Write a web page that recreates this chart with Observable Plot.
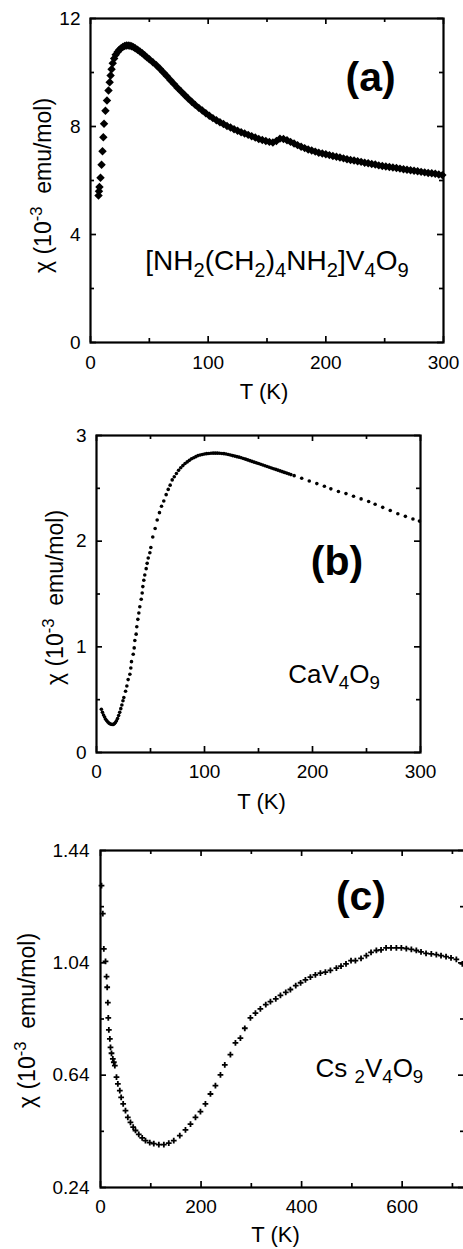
<!DOCTYPE html>
<html><head><meta charset="utf-8">
<script src="https://cdn.jsdelivr.net/npm/d3@7"></script>
<script src="https://cdn.jsdelivr.net/npm/@observablehq/plot@0.6"></script>
<style>
html,body{margin:0;padding:0;background:#fff;overflow:hidden;}
#wrap{position:relative;width:463px;height:1249px;overflow:hidden;background:#fff;}
#wrap svg{position:absolute;left:0;}
</style></head><body><div id="wrap"></div>
<script>
// ---------- Panel (a): [NH2(CH2)4NH2]V4O9 ----------
const aT = [6.8,7.2,7.6,8.5,9.4,10.2,10.9,11.5,12.7,14.0,15.3,16.3,17.1,17.9,18.9,20.1,21.4,23,24.5,26,27.5,29,30.5,32,33.5,35,36.5,38,40,42,44,46,48,50,53,56,59,62,65,68,71,74,77,80,83,86,89,92,95,98,101,104,107,110,113,116,119,122,125,128,131,134,137,140,143,146,149,152,155,158,161,164,167,170,173,176,179,182,185,188,191,194,197,200,203,206,209,212,215,218,221,224,227,230,233,236,239,242,245,248,251,254,257,260,263,266,269,272,275,278,281,284,287,290,293,296,299];
const aChi = [5.44,5.60,5.76,6.10,6.58,7.08,7.60,8.10,8.58,8.96,9.33,9.64,9.89,10.12,10.34,10.52,10.66,10.76,10.84,10.90,10.95,10.98,11.00,11.00,10.99,10.97,10.94,10.90,10.84,10.78,10.71,10.64,10.56,10.49,10.38,10.27,10.14,10.00,9.86,9.71,9.57,9.43,9.30,9.17,9.04,8.92,8.80,8.69,8.59,8.49,8.40,8.31,8.23,8.16,8.09,8.02,7.96,7.90,7.84,7.79,7.74,7.69,7.64,7.59,7.54,7.50,7.46,7.43,7.41,7.46,7.55,7.54,7.49,7.43,7.37,7.31,7.25,7.20,7.15,7.11,7.07,7.03,7.00,6.97,6.94,6.91,6.88,6.85,6.82,6.79,6.76,6.74,6.71,6.69,6.66,6.64,6.61,6.59,6.56,6.54,6.52,6.50,6.48,6.46,6.44,6.42,6.40,6.38,6.36,6.34,6.32,6.30,6.28,6.27,6.25,6.22,6.20];
const aXTicks = [0,100,200,300], aXMinor = [50,150,250];
const aYTicks = [0,4,8,12], aYMinor = [2,6,10];

// ---------- Panel (b): CaV4O9 ----------
const bT = [4.5,5.5,6.5,7.5,8.5,9.5,10.5,11.5,12.5,13.5,14.5,15.5,16.5,17.5,18.5,19.5,20.5,21.5,22.5,23.5,24.5,
  25.3,26.9,28.1,29.3,30.9,31.8,32.4,34,34.9,35.5,36.7,37.3,38.3,39.2,40.1,41.4,42.3,42.9,43.8,44.7,46,46.9,47.9,49.4,50.3,52.1,54.3,56.2,58.3,60.2,62.3,64.5,66.4,68.2,70.1,
  72,74,76,78,80,82,84,86,88,90,92,94,96,98,100,102,104,106,108,110,112,114,116,118,120,122,124,126,128,130,132,134,136,138,140,142,144,146,148,150,152,154,156,158,160,162,164,166,168,170,172,174,176,178,180,
  183,190,197,204,211,217,224,231,238,245,252,258,265,272,279,286,293,299];
const bChi = [0.41,0.38,0.355,0.335,0.315,0.30,0.288,0.278,0.272,0.267,0.265,0.266,0.272,0.283,0.30,0.322,0.35,0.38,0.415,0.45,0.49,
  0.52,0.58,0.63,0.69,0.74,0.80,0.86,0.93,0.99,1.06,1.12,1.19,1.26,1.32,1.38,1.45,1.51,1.57,1.63,1.68,1.74,1.79,1.84,1.89,1.94,2.04,2.12,2.20,2.27,2.33,2.38,2.44,2.49,2.53,2.58,
  2.61,2.64,2.67,2.695,2.715,2.735,2.75,2.765,2.78,2.79,2.80,2.81,2.815,2.82,2.825,2.828,2.83,2.832,2.833,2.833,2.833,2.832,2.83,2.828,2.825,2.82,2.815,2.81,2.805,2.80,2.795,2.789,2.782,2.776,2.769,2.762,2.755,2.748,2.741,2.735,2.728,2.721,2.714,2.707,2.700,2.693,2.686,2.679,2.672,2.665,2.658,2.651,2.644,2.637,2.630,
  2.62,2.595,2.57,2.545,2.52,2.495,2.47,2.45,2.425,2.40,2.375,2.35,2.32,2.29,2.26,2.235,2.21,2.19];
const bXTicks = [0,100,200,300], bXMinor = [50,150,250];
const bYTicks = [0,1,2,3], bYMinor = [0.5,1.5,2.5];

// ---------- Panel (c): Cs2V4O9 ----------
const cT = [2,4.6,6.6,10,12,13.3,14.6,15.5,16.6,18.6,19.9,21.9,24.5,26.5,28.5,31.8,34.5,38.4,41.1,45.1,49.7,54.3,59.6,65,69.6,76.1,82.9,89.5,98,106,116,126,135.8,145.7,157.7,169,179,188.9,198.8,208.7,218.7,228.6,238.6,247.2,258.4,268.4,278.3,287,298.2,308.2,318,328.7,338,348.6,357.9,368.5,377.7,388.3,398,407.6,417.5,427.4,437.4,447.3,457.3,469.2,478.4,488.3,498.3,507,518.2,528.8,538.1,548.7,558,568,577.9,588.5,598.4,608.3,618.3,628.2,637.5,647.5,658,668,677.3,687.3,697.2,707.8,719.7];
const cChi = [1.315,1.215,1.09,1.045,0.991,0.953,0.898,0.844,0.801,0.769,0.739,0.718,0.698,0.686,0.674,0.633,0.609,0.585,0.561,0.538,0.514,0.490,0.472,0.455,0.443,0.429,0.417,0.407,0.400,0.396,0.393,0.393,0.398,0.407,0.425,0.445,0.466,0.490,0.51,0.538,0.573,0.603,0.641,0.677,0.713,0.755,0.772,0.807,0.844,0.861,0.876,0.891,0.902,0.912,0.924,0.935,0.945,0.959,0.969,0.979,0.989,0.997,1.003,1.007,1.013,1.021,1.028,1.036,1.048,1.048,1.056,1.066,1.077,1.084,1.086,1.093,1.093,1.093,1.093,1.091,1.088,1.084,1.079,1.074,1.072,1.069,1.066,1.062,1.058,1.052,1.036];
const cXTicks = [0,200,400,600], cXMinor = [100,300,500,700];
const cYTicks = [0.24,0.64,1.04,1.44], cYMinor = [0.44,0.84,1.24];

const xTitle = "T (K)";
const yTitle = "χ (10^{-3}  emu/mol)";
const tags = ["(a)", "(b)", "(c)"];
const formulas = ["[NH_2(CH_2)_4NH_2]V_4O_9", "CaV_4O_9", "Cs _2V_4O_9"];

const FONT = "'Liberation Sans', Arial, Helvetica, sans-serif";
const W = 463;

function rich(svg) {
  const ns = "http://www.w3.org/2000/svg";
  svg.querySelectorAll("text").forEach(t => {
    if (t.querySelector("tspan")) return;
    const s = t.textContent;
    if (!/[_^]/.test(s)) return;
    const parts = [];
    let i = 0;
    while (i < s.length) {
      if (s[i] === "_") { parts.push({t: s[i + 1], k: "sub"}); i += 2; }
      else if (s[i] === "^") { const j = s.indexOf("}", i); parts.push({t: s.slice(i + 2, j), k: "sup"}); i = j + 1; }
      else { let j = i; while (j < s.length && s[j] !== "_" && s[j] !== "^") j++; parts.push({t: s.slice(i, j), k: "n"}); i = j; }
    }
    const fs = parseFloat(getComputedStyle(t).fontSize) || 20;
    t.textContent = "";
    let shift = 0;
    parts.forEach(p => {
      const ts = document.createElementNS(ns, "tspan");
      ts.textContent = p.t;
      const target = p.k === "sub" ? fs * 0.24 : p.k === "sup" ? -fs * 0.38 : 0;
      ts.setAttribute("dy", (target - shift) + "px");
      shift = target;
      if (p.k !== "n") ts.setAttribute("style", "font-size:0.72em");
      t.appendChild(ts);
    });
  });
}

function panel(o) {
  const fw = W - o.mL - o.mR, fh = o.height - o.mT - o.mB;
  const data = o.T.map((t, i) => ({t, c: o.C[i]}));
  const sw = 1.7;
  const svg = Plot.plot({
    width: W, height: o.height,
    marginLeft: o.mL, marginRight: o.mR, marginTop: o.mT, marginBottom: o.mB,
    style: {fontFamily: FONT, fontSize: "19px", color: "#000", background: "transparent"},
    x: {domain: o.xDomain, label: null},
    y: {domain: o.yDomain, label: null},
    marks: [
      Plot.ruleX(o.xMajor, {x: d => d, insetTop: fh - 6, strokeWidth: sw}),
      Plot.ruleX(o.xMajor, {x: d => d, insetBottom: fh - 6, strokeWidth: sw}),
      Plot.ruleX(o.xMinor, {x: d => d, insetTop: fh - 4, strokeWidth: sw}),
      Plot.ruleX(o.xMinor, {x: d => d, insetBottom: fh - 4, strokeWidth: sw}),
      Plot.ruleY(o.yMajor, {y: d => d, insetRight: fw - 6, strokeWidth: sw}),
      Plot.ruleY(o.yMajor, {y: d => d, insetLeft: fw - 6, strokeWidth: sw}),
      Plot.ruleY(o.yMinor, {y: d => d, insetRight: fw - 4, strokeWidth: sw}),
      Plot.ruleY(o.yMinor, {y: d => d, insetLeft: fw - 4, strokeWidth: sw}),
      Plot.frame({stroke: "#000", strokeWidth: 2.2}),
      Plot.axisX(o.xMajor, {tickSize: 0, tickPadding: o.xPad, fontSize: 19, label: null}),
      Plot.axisY(o.yMajor, {tickSize: 0, tickPadding: o.yPad, fontSize: 19, label: null, tickFormat: o.yFmt}),
      Plot.dot(data, Object.assign({x: "t", y: "c"}, o.dot)),
      Plot.text([o.tag], {x: () => o.tagX, y: () => o.tagY, text: d => d, fontSize: 41, fontWeight: "bold", textAnchor: "middle", lineAnchor: "middle"}),
      Plot.text([o.formula], {x: () => o.fX, y: () => o.fY, text: d => d, fontSize: o.fSize, textAnchor: "middle", lineAnchor: "bottom"}),
      Plot.text([xTitle], {frameAnchor: "bottom", text: d => d, fontSize: 22, lineAnchor: "bottom", dx: o.xtDx, dy: o.xtDy}),
      Plot.text([yTitle], {frameAnchor: "left", text: d => d, fontSize: 23, rotate: -90, textAnchor: "middle", lineAnchor: "middle", dx: o.ytDx, dy: o.ytDy})
    ]
  });
  svg.style.top = o.top + "px";
  document.getElementById("wrap").appendChild(svg);
  rich(svg);
}

panel({
  top: 0, height: 415, mL: 90, mR: 20, mT: 18, mB: 73,
  xDomain: [0, 300], yDomain: [0, 12],
  xMajor: aXTicks, xMinor: aXMinor, yMajor: aYTicks, yMinor: aYMinor,
  T: aT, C: aChi, dot: {symbol: "diamond2", r: 3.8, fill: "#000", stroke: "none"},
  xPad: 13, yPad: 10, yFmt: d3.format("d"),
  tag: tags[0], tagX: 238, tagY: 9.81,
  formula: formulas[0], fX: 158.5, fY: 2.67, fSize: 28,
  xtDx: -3, xtDy: 56, ytDx: -47, ytDy: 5
});

panel({
  top: 420, height: 410, mL: 96, mR: 43, mT: 15, mB: 78,
  xDomain: [0, 300], yDomain: [0, 3],
  xMajor: bXTicks, xMinor: bXMinor, yMajor: bYTicks, yMinor: bYMinor,
  T: bT, C: bChi, dot: {r: 1.8, fill: "#000", stroke: "none"},
  xPad: 12, yPad: 10, yFmt: d3.format("d"),
  tag: tags[1], tagX: 222.7, tagY: 1.80,
  formula: formulas[1], fX: 219.9, fY: 0.66, fSize: 26,
  xtDx: 3, xtDy: 56, ytDx: -41, ytDy: 3.5
});

panel({
  top: 830, height: 419, mL: 100, mR: -1, mT: 20, mB: 62,
  xDomain: [0, 724], yDomain: [0.24, 1.44],
  xMajor: cXTicks, xMinor: cXMinor, yMajor: cYTicks, yMinor: cYMinor,
  T: cT, C: cChi, dot: {symbol: "plus", r: 2, stroke: "#000", strokeWidth: 1.8, fill: "none"},
  xPad: 12, yPad: 11, yFmt: d3.format(".2f"),
  tag: tags[2], tagX: 518, tagY: 1.274,
  formula: formulas[2], fX: 534.8, fY: 0.633, fSize: 26,
  xtDx: -7, xtDy: 54, ytDx: -73, ytDy: 1.5
});
</script></body></html>
